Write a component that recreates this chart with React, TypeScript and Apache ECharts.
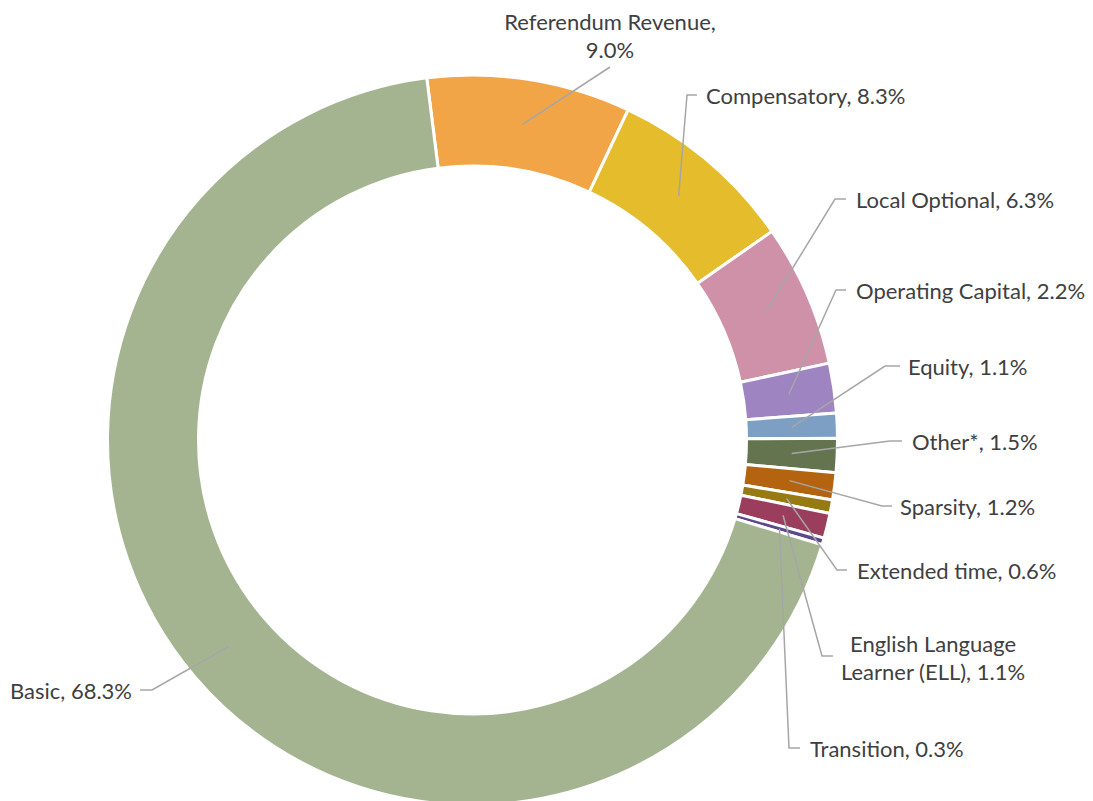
import React, { useEffect, useRef } from "react";
import * as echarts from "echarts";

// ---- Data ----
const categories: string[] = [
  "Referendum Revenue",
  "Compensatory",
  "Local Optional",
  "Operating Capital",
  "Equity",
  "Other*",
  "Sparsity",
  "Extended time",
  "English Language Learner (ELL)",
  "Transition",
  "Basic",
];
const shares: number[] = [9.0, 8.3, 6.3, 2.2, 1.1, 1.5, 1.2, 0.6, 1.1, 0.3, 68.3];

// ---- Styles ----
const colors: string[] = [
  "#F2A546",
  "#E5BC2B",
  "#CF91A7",
  "#9E84C1",
  "#7D9FC3",
  "#63744F",
  "#B4640F",
  "#977A12",
  "#9B3E5E",
  "#5B4A8A",
  "#A5B490",
];

// Label text line breaks (presentation only)
const breakAfter: Record<number, string> = {
  0: "Referendum Revenue,\n",
  8: "English Language\nLearner (ELL), ",
};

// ---- Layout (label anchor and leader-line elbow positions) ----
type LabelPos = { x: number; y: number; align: "left" | "right" | "center"; elbow: number[][] };
const labelPos: LabelPos[] = [
  { x: 610, y: 35, align: "center", elbow: [[610, 67], [610, 67]] },
  { x: 706, y: 95, align: "left", elbow: [[687, 95], [697, 95]] },
  { x: 856, y: 199, align: "left", elbow: [[835, 199], [846, 199]] },
  { x: 856, y: 290, align: "left", elbow: [[836, 290], [846, 290]] },
  { x: 908, y: 366, align: "left", elbow: [[885, 366], [900, 366]] },
  { x: 912, y: 441, align: "left", elbow: [[890, 441], [902, 441]] },
  { x: 900, y: 506, align: "left", elbow: [[882, 506], [892, 506]] },
  { x: 857, y: 570, align: "left", elbow: [[837, 570], [847, 570]] },
  { x: 933, y: 657, align: "center", elbow: [[822, 656], [833, 656]] },
  { x: 810, y: 748, align: "left", elbow: [[789, 748], [800, 748]] },
  { x: 132, y: 690, align: "right", elbow: [[152, 690], [140, 690]] },
];

const CX = 472.5;
const CY = 440;
const R_IN = 274;
const R_OUT = 365;
const START = 97.2;

function midPoints(): number[][] {
  const total = shares.reduce((a, b) => a + b, 0);
  let cum = 0;
  const rMid = (R_IN + R_OUT) / 2;
  return shares.map((v) => {
    const frac = (cum + v / 2) / total;
    cum += v;
    const a = ((START - frac * 360) * Math.PI) / 180;
    return [CX + rMid * Math.cos(a), CY - rMid * Math.sin(a)];
  });
}

export default function App() {
  const ref = useRef<HTMLDivElement>(null);
  useEffect(() => {
    if (!ref.current) return;
    const chart = echarts.init(ref.current, undefined, { renderer: "svg" });
    const mids = midPoints();
    const data = categories.map((name, i) => ({
      name,
      value: shares[i],
      itemStyle: { color: colors[i] },
    }));
    const leaderLines = labelPos.map((lp, i) => ({
      type: "polyline",
      z: 100,
      silent: true,
      shape: { points: [mids[i], lp.elbow[0], lp.elbow[1]] },
      style: { stroke: "#A6A6A6", lineWidth: 1.5, fill: null },
    }));
    chart.setOption({
      animation: false,
      backgroundColor: "#ffffff",
      graphic: { elements: leaderLines },
      series: [
        {
          type: "pie",
          center: [CX, CY],
          radius: [R_IN, R_OUT],
          startAngle: START,
          clockwise: true,
          avoidLabelOverlap: false,
          emphasis: { disabled: true },
          itemStyle: { borderColor: "#ffffff", borderWidth: 3 },
          data,
          label: {
            show: true,
            position: "outside",
            color: "#404040",
            fontFamily: "Lato",
            fontSize: 22,
            lineHeight: 28,
            formatter: (p: any) => {
              const i = p.dataIndex;
              const v = Number(p.value).toFixed(1) + "%";
              if (breakAfter[i]) return breakAfter[i] + v;
              return `${p.name}, ${v}`;
            },
          },
          labelLine: { show: false },
          labelLayout: (params: any) => {
            const lp = labelPos[params.dataIndex];
            return {
              x: lp.x,
              y: lp.y,
              align: lp.align,
              verticalAlign: "middle",
            };
          },
        },
      ],
    });
    return () => chart.dispose();
  }, []);
  return (
    <div
      ref={ref}
      style={{ position: "absolute", left: 0, top: 0, width: 1093, height: 801, background: "#fff" }}
    />
  );
}
